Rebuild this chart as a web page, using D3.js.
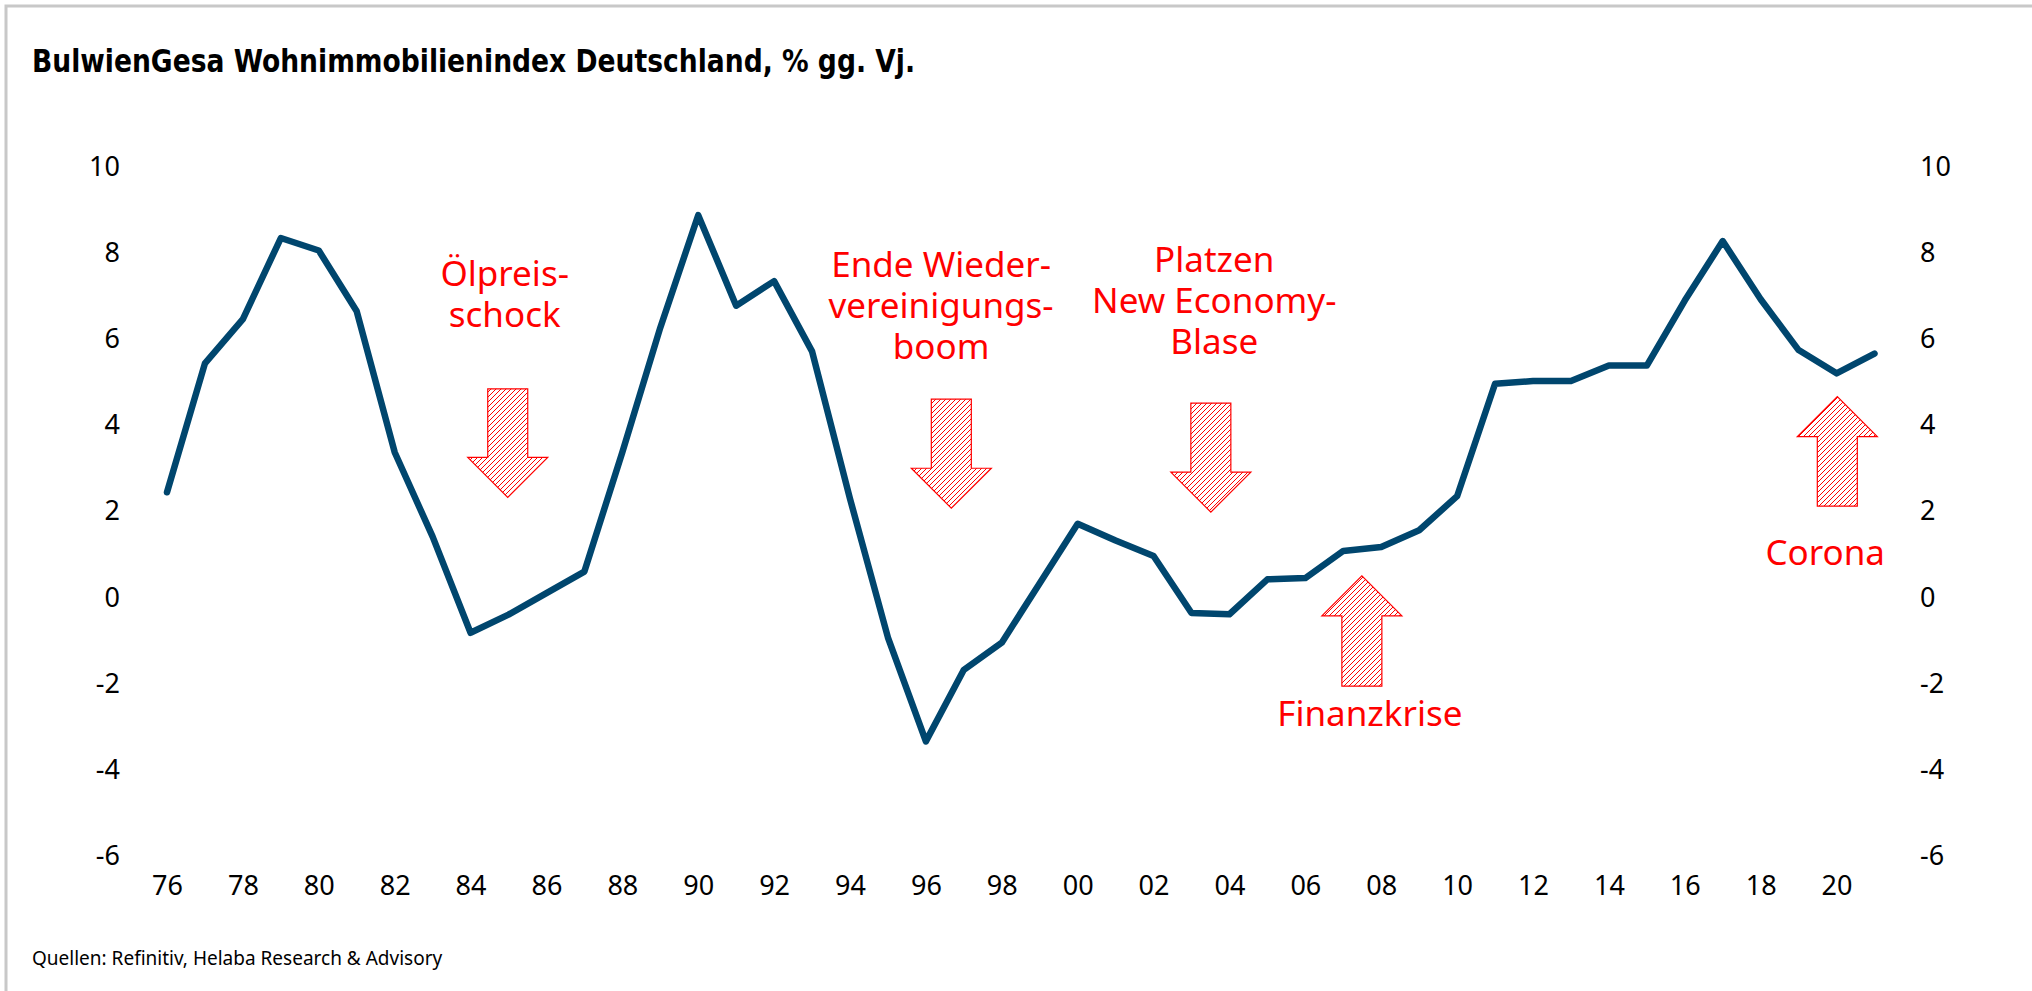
<!DOCTYPE html>
<html>
<head>
<meta charset="utf-8">
<title>BulwienGesa Wohnimmobilienindex</title>
<script src="https://d3js.org/d3.v7.min.js"></script>
<style>
  body { margin: 0; background: #fff; }
  svg { display: block; }
</style>
</head>
<body>
<div id="chart"></div>
<script>
// Jahreswerte, % gg. Vj.
const years = d3.range(1976, 2022);
const values = [2.44, 5.43, 6.46, 8.34, 8.05, 6.64, 3.37, 1.41, -0.82, -0.40, 0.10, 0.60,
  3.37, 6.26, 8.87, 6.77, 7.34, 5.71, 2.29, -0.93, -3.34, -1.68, -1.05, 0.33, 1.71,
  1.32, 0.96, -0.36, -0.39, 0.42, 0.45, 1.08, 1.17, 1.56, 2.35, 4.96, 5.02, 5.02,
  5.38, 5.38, 6.89, 8.27, 6.92, 5.74, 5.20, 5.66];
const yTicks = [-6, -4, -2, 0, 2, 4, 6, 8, 10];
const xTicks = d3.range(1976, 2021, 2);

// Ereignisse: Text + Pfeil (Jahr, Wert am Pfeilende, Wert an der Spitze)
const labelLines = [["Ölpreis-", "schock"], ["Ende Wieder-", "vereinigungs-", "boom"],
  ["Platzen", "New Economy-", "Blase"], ["Finanzkrise"], ["Corona"]];
const labelPos = [[1984.9, 7.23], [1996.4, 7.44], [2003.6, 7.55], [2007.7, -2.98], [2019.7, 0.75]];
const arrows = [[1984.98, 4.84, 2.32], [1996.67, 4.60, 2.07], [2003.51, 4.51, 1.98],
  [2007.49, -2.06, 0.50], [2020.02, 2.12, 4.66]];

const W = 2032, H = 991;
const svg = d3.select("#chart").append("svg")
    .attr("width", W).attr("height", H);

svg.append("rect").attr("width", W).attr("height", H).attr("fill", "#fff");

// Rahmen
svg.append("path")
    .attr("d", "M6,991 L6,6 L2032,6")
    .attr("fill", "none")
    .attr("stroke", "#c8c8c8")
    .attr("stroke-width", 3);

const x = d3.scaleLinear().domain([1976, 2021]).range([167, 1874.5]);
const y = d3.scaleLinear().domain([-6, 10]).range([856, 166.5]);

// Titel
svg.append("text")
    .attr("x", 32).attr("y", 72)
    .attr("font-family", "'Liberation Sans Narrow', 'DejaVu Sans Condensed', sans-serif")
    .attr("font-weight", "bold")
    .attr("font-size", 32)
    .attr("textLength", 883)
    .attr("lengthAdjust", "spacingAndGlyphs")
    .text("BulwienGesa Wohnimmobilienindex Deutschland, % gg. Vj.");

// Achsen (Bindestrich statt Minuszeichen wie im Original)
const axisFont = "'Noto Sans', sans-serif";
const yAxisL = d3.axisLeft(y).tickValues(yTicks).tickSize(0).tickPadding(0).tickFormat(d => String(d));
const yAxisR = d3.axisRight(y).tickValues(yTicks).tickSize(0).tickPadding(0).tickFormat(d => String(d));
const xAxis = d3.axisBottom(x).tickValues(xTicks).tickSize(0).tickPadding(0)
    .tickFormat(d => String(d % 100).padStart(2, "0"));

svg.append("g").attr("transform", "translate(120,0)").call(yAxisL);
svg.append("g").attr("transform", "translate(1920,0)").call(yAxisR);
svg.append("g").attr("transform", "translate(0,876)").call(xAxis);

svg.selectAll(".domain").remove();
svg.selectAll(".tick text")
    .attr("font-family", axisFont)
    .attr("font-size", 27)
    .attr("fill", "#000");

// Schraffur
const defs = svg.append("defs");
defs.append("pattern")
    .attr("id", "hatch")
    .attr("patternUnits", "userSpaceOnUse")
    .attr("width", 5).attr("height", 5)
    .append("path")
    .attr("d", "M-1,1 l2,-2 M0,5 l5,-5 M4,6 l2,-2")
    .attr("stroke", "#ff0000")
    .attr("stroke-width", 1);

// Pfeile
const shaftHalf = 20, headHalf = 40, headLen = 40;
svg.selectAll("path.arrow")
    .data(arrows).enter()
    .append("path")
    .attr("class", "arrow")
    .attr("d", function(a) {
      let cx = x(a[0]), y0 = y(a[1]), y1 = y(a[2]);
      let dir = y1 > y0 ? 1 : -1;
      let hb = y1 - dir * headLen;
      return "M" + (cx - shaftHalf) + "," + y0 +
        "L" + (cx + shaftHalf) + "," + y0 +
        "L" + (cx + shaftHalf) + "," + hb +
        "L" + (cx + headHalf) + "," + hb +
        "L" + cx + "," + y1 +
        "L" + (cx - headHalf) + "," + hb +
        "L" + (cx - shaftHalf) + "," + hb + "Z";
    })
    .attr("fill", "url(#hatch)")
    .attr("stroke", "#ff0000")
    .attr("stroke-width", 1.2);

// Beschriftung der Ereignisse, eine Zeile je text
labelLines.forEach(function(lines, i) {
  lines.forEach(function(l, j) {
    svg.append("text")
      .attr("font-family", "'Noto Sans', sans-serif")
      .attr("font-size", 35)
      .attr("fill", "#ff0000")
      .attr("text-anchor", "middle")
      .attr("x", x(labelPos[i][0]))
      .attr("y", y(labelPos[i][1]) + j * 41)
      .text(l);
  });
});

// Linie
const line = d3.line()
    .x((d, i) => x(years[i]))
    .y(d => y(d));

svg.append("path")
    .datum(values)
    .attr("fill", "none")
    .attr("stroke", "#00466e")
    .attr("stroke-width", 6.5)
    .attr("stroke-linejoin", "round")
    .attr("stroke-linecap", "round")
    .attr("d", line);

// Quelle
svg.append("text")
    .attr("x", 32).attr("y", 965)
    .attr("font-family", "'Noto Sans', sans-serif")
    .attr("font-size", 19)
    .attr("fill", "#000")
    .text("Quellen: Refinitiv, Helaba Research & Advisory");
</script>
</body>
</html>
